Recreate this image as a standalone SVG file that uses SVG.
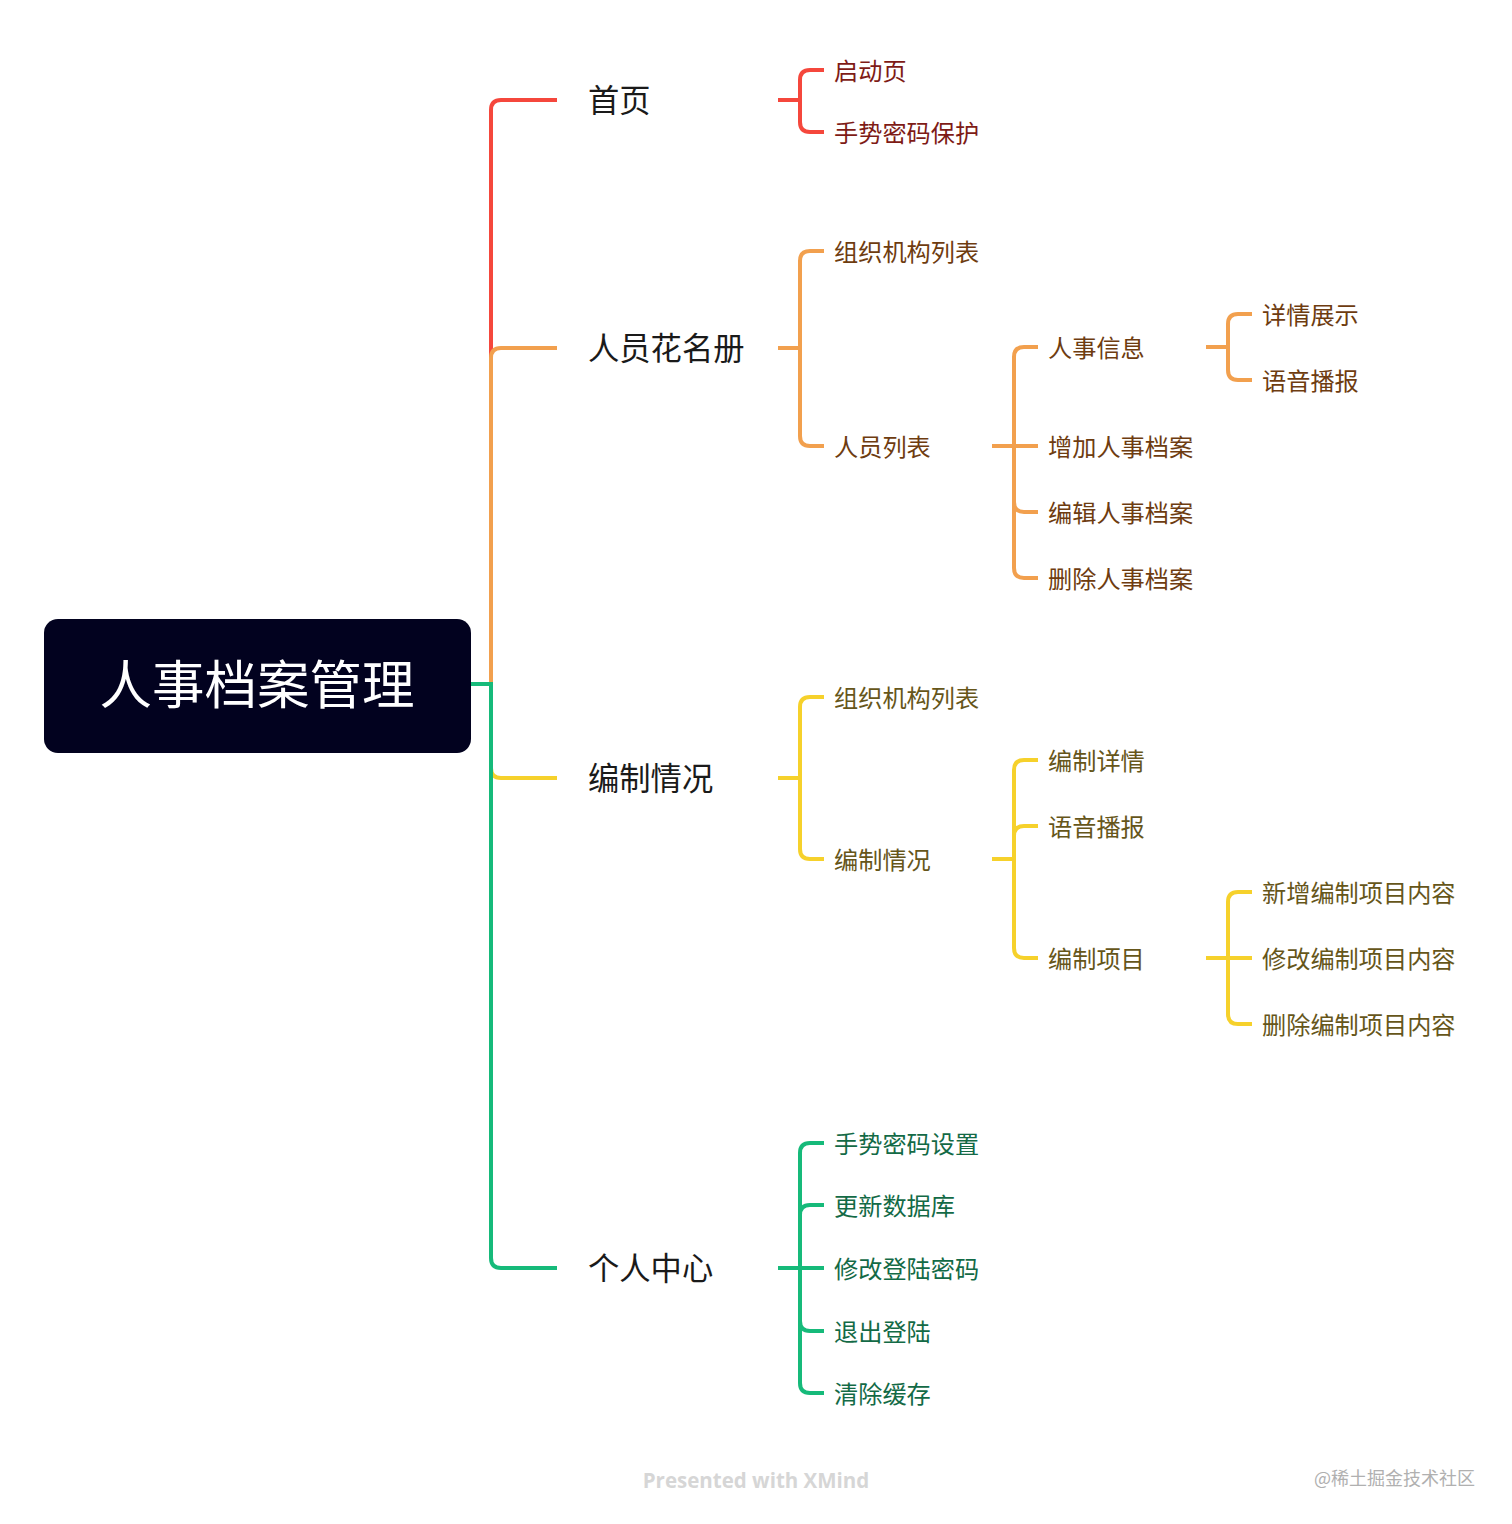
<svg xmlns="http://www.w3.org/2000/svg" width="1512" height="1524" viewBox="0 0 1512 1524">
<style>
text{font-family:"Noto Sans CJK SC","Noto Sans",sans-serif;dominant-baseline:central}
.l1{font-size:31.3px;fill:#1a1a1a;transform:translateY(-2px)}
.l2{font-size:24.2px;transform:translateY(-1px)}
.ln{fill:none;stroke-width:4;stroke-linecap:butt;stroke-linejoin:round}
.r{stroke:#F5473C}.o{stroke:#F2A04E}.y{stroke:#F6D12B}.g{stroke:#16BA7A}
.tr{fill:#7E1B16}.to{fill:#6E3C10}.ty{fill:#66561A}.tg{fill:#136A46}
</style>
<rect width="1512" height="1524" fill="#fff"/>
<g id="connectors">
<path class="ln r" d="M491,684 V110 Q491,100 501,100 H557"/>
<path class="ln o" d="M491,684 V358 Q491,348 501,348 H557"/>
<path class="ln y" d="M491,684 V768 Q491,778 501,778 H557"/>
<path class="ln g" d="M491,684 V1258 Q491,1268 501,1268 H557"/>
<path class="ln g" d="M471,684 H493"/>
<path class="ln r" d="M778,100 H800 M800,100 V80 Q800,70 810,70 H824 M800,100 V122 Q800,132 810,132 H824"/>
<path class="ln o" d="M778,348 H800 M800,348 V261 Q800,251 810,251 H824 M800,348 V436 Q800,446 810,446 H824"/>
<path class="ln o" d="M992,446 H1014 M1014,446 V357 Q1014,347 1024,347 H1038 M1014,446 H1038 M1014,446 V502 Q1014,512 1024,512 H1038 M1014,446 V568 Q1014,578 1024,578 H1038"/>
<path class="ln o" d="M1206,347 H1228 M1228,347 V324 Q1228,314 1238,314 H1252 M1228,347 V370 Q1228,380 1238,380 H1252"/>
<path class="ln y" d="M778,778 H800 M800,778 V707 Q800,697 810,697 H824 M800,778 V849 Q800,859 810,859 H824"/>
<path class="ln y" d="M992,859 H1014 M1014,859 V770 Q1014,760 1024,760 H1038 M1014,859 V836 Q1014,826 1024,826 H1038 M1014,859 V948 Q1014,958 1024,958 H1038"/>
<path class="ln y" d="M1206,958 H1228 M1228,958 V902 Q1228,892 1238,892 H1252 M1228,958 H1252 M1228,958 V1014 Q1228,1024 1238,1024 H1252"/>
<path class="ln g" d="M778,1268 H800 M800,1268 V1153 Q800,1143 810,1143 H824 M800,1268 V1215 Q800,1205 810,1205 H824 M800,1268 H824 M800,1268 V1321 Q800,1331 810,1331 H824 M800,1268 V1383 Q800,1393 810,1393 H824"/>
</g>
<g id="root"><rect x="44" y="619" width="427" height="134" rx="14" fill="#02021F"/><text x="257" y="681" font-size="52.5" fill="#fff" text-anchor="middle">人事档案管理</text></g>
<g id="n-shouye"><text class="l1" x="588" y="100">首页</text></g>
<g id="n-renyuan"><text class="l1" x="588" y="348">人员花名册</text></g>
<g id="n-bianzhi"><text class="l1" x="588" y="778">编制情况</text></g>
<g id="n-geren"><text class="l1" x="588" y="1268">个人中心</text></g>
<g id="n-qidong"><text class="l2 tr" x="834" y="70">启动页</text></g>
<g id="n-shoushi"><text class="l2 tr" x="834" y="132">手势密码保护</text></g>
<g id="n-zuzhi1"><text class="l2 to" x="834" y="251">组织机构列表</text></g>
<g id="n-ryliebiao"><text class="l2 to" x="834" y="446">人员列表</text></g>
<g id="n-rsxinxi"><text class="l2 to" x="1048" y="347">人事信息</text></g>
<g id="n-zengjia"><text class="l2 to" x="1048" y="446">增加人事档案</text></g>
<g id="n-bianji"><text class="l2 to" x="1048" y="512">编辑人事档案</text></g>
<g id="n-shanchu"><text class="l2 to" x="1048" y="578">删除人事档案</text></g>
<g id="n-xiangqing"><text class="l2 to" x="1262" y="314">详情展示</text></g>
<g id="n-yuyin1"><text class="l2 to" x="1262" y="380">语音播报</text></g>
<g id="n-zuzhi2"><text class="l2 ty" x="834" y="697">组织机构列表</text></g>
<g id="n-bzqk2"><text class="l2 ty" x="834" y="859">编制情况</text></g>
<g id="n-bzxq"><text class="l2 ty" x="1048" y="760">编制详情</text></g>
<g id="n-yuyin2"><text class="l2 ty" x="1048" y="826">语音播报</text></g>
<g id="n-bzxm"><text class="l2 ty" x="1048" y="958">编制项目</text></g>
<g id="n-xinzeng"><text class="l2 ty" x="1262" y="892">新增编制项目内容</text></g>
<g id="n-xiugai"><text class="l2 ty" x="1262" y="958">修改编制项目内容</text></g>
<g id="n-shanchu2"><text class="l2 ty" x="1262" y="1024">删除编制项目内容</text></g>
<g id="n-sssz"><text class="l2 tg" x="834" y="1143">手势密码设置</text></g>
<g id="n-gengxin"><text class="l2 tg" x="834" y="1205">更新数据库</text></g>
<g id="n-xgmm"><text class="l2 tg" x="834" y="1268">修改登陆密码</text></g>
<g id="n-tuichu"><text class="l2 tg" x="834" y="1331">退出登陆</text></g>
<g id="n-qingchu"><text class="l2 tg" x="834" y="1393">清除缓存</text></g>
<text x="756" y="1480" font-size="20.5" font-weight="bold" fill="#D6D6D6" text-anchor="middle" style="font-family:'Open Sans','Noto Sans',sans-serif">Presented with XMind</text>
<text x="1475" y="1477" font-size="18" fill="#B0B0B0" text-anchor="end">@稀土掘金技术社区</text>
</svg>
